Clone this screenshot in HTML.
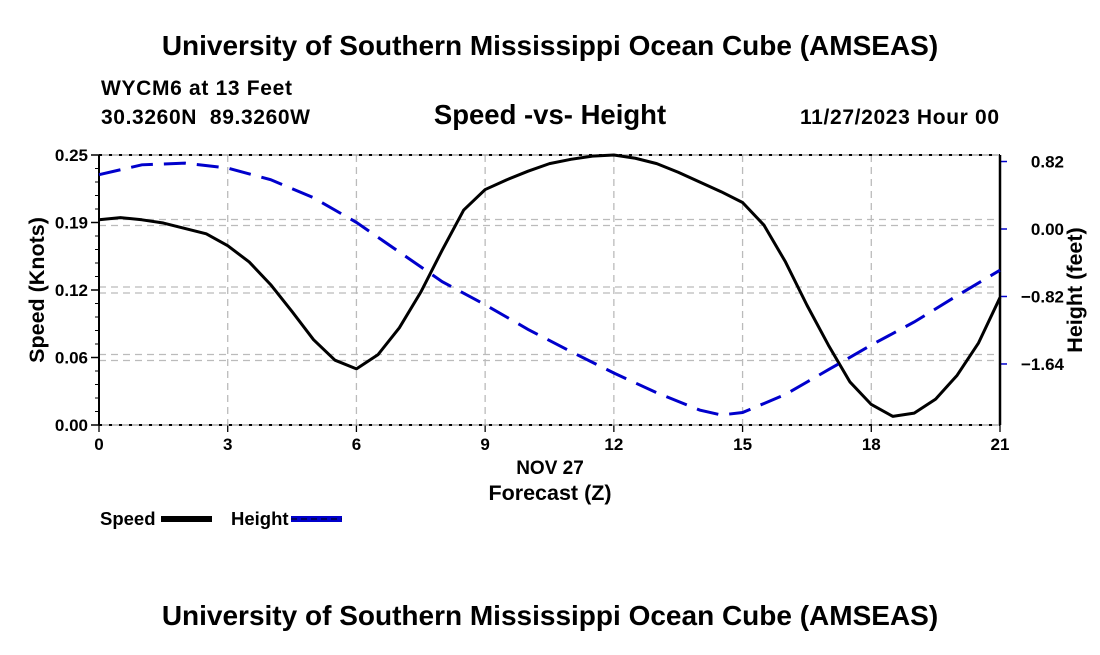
<!DOCTYPE html>
<html><head><meta charset="utf-8"><style>
body{margin:0;background:#fff;width:1100px;height:650px;overflow:hidden;font-family:"Liberation Sans",sans-serif}
svg text{font-family:"Liberation Sans",sans-serif;font-weight:bold}
</style></head><body>
<svg id="chart" width="1100" height="650">
<text x="550" y="55" text-anchor="middle" font-size="28">University of Southern Mississippi Ocean Cube (AMSEAS)</text>
<text x="101" y="95" font-size="21" textLength="191">WYCM6 at 13 Feet</text>
<text x="101" y="124" font-size="21" textLength="209" xml:space="preserve">30.3260N  89.3260W</text>
<text x="550" y="124" text-anchor="middle" font-size="27.5">Speed -vs- Height</text>
<text x="999" y="124" text-anchor="end" font-size="21" textLength="199">11/27/2023 Hour 00</text>
<g id="grid"></g>
<g id="axes"></g>
<g id="series"></g>
<text x="550" y="474" text-anchor="middle" font-size="19">NOV 27</text>
<text x="550" y="500" text-anchor="middle" font-size="21.5">Forecast (Z)</text>
<text transform="translate(44,290) rotate(-90)" text-anchor="middle" font-size="21.5">Speed (Knots)</text>
<text transform="translate(1082,290) rotate(-90)" text-anchor="middle" font-size="21.5">Height (feet)</text>
<g>
<text x="100" y="525" font-size="18.5">Speed</text>
<rect x="161" y="516" width="51" height="6" fill="#000"/>
</g>
<g>
<text x="231" y="525" font-size="18.5">Height</text>
<rect x="291" y="516" width="51" height="6" fill="#00c"/>
<line x1="291" y1="519" x2="342" y2="519" stroke="#000" stroke-width="1" stroke-dasharray="6,4"/>
</g>
<text x="550" y="625" text-anchor="middle" font-size="28">University of Southern Mississippi Ocean Cube (AMSEAS)</text>
</svg>
<script>
const hours = [0,0.5,1,1.5,2,2.5,3,3.5,4,4.5,5,5.5,6,6.5,7,7.5,8,8.5,9,9.5,10,10.5,11,11.5,12,12.5,13,13.5,14,14.5,15,15.5,16,16.5,17,17.5,18,18.5,19,19.5,20,20.5,21];
const speedValues = [0.190,0.192,0.190,0.187,0.182,0.177,0.166,0.151,0.130,0.105,0.079,0.060,0.052,0.065,0.090,0.123,0.162,0.199,0.218,0.227,0.235,0.242,0.246,0.249,0.250,0.247,0.242,0.234,0.225,0.216,0.206,0.185,0.151,0.111,0.074,0.040,0.019,0.008,0.011,0.024,0.046,0.076,0.118];
const heightHours = [0,1,2,3,4,5,6,7,8,9,10,11,12,13,14,14.5,15,16,17,18,19,20,21];
const heightValues = [0.66,0.78,0.80,0.74,0.60,0.38,0.08,-0.28,-0.64,-0.92,-1.22,-1.49,-1.75,-1.99,-2.20,-2.26,-2.23,-2.01,-1.71,-1.41,-1.13,-0.81,-0.50];
const xTicks = [0,3,6,9,12,15,18,21];
const speedTicks = [0,0.0625,0.125,0.1875,0.25];
const speedTickLabels = ["0.00","0.06","0.12","0.19","0.25"];
const heightTicks = [0.82,0,-0.82,-1.64];
const heightTickLabels = ["0.82","0.00","\u22120.82","\u22121.64"];

const L=99,R=1000,T=155,B=425;
const xs=h=>L+(R-L)*h/21;
const ys=v=>B-(B-T)*v/0.25;
const yh=v=>229-82.3*v;
const NS="http://www.w3.org/2000/svg";
function mk(tag,attrs,parent){const e=document.createElementNS(NS,tag);for(const k in attrs)e.setAttribute(k,attrs[k]);document.getElementById(parent).appendChild(e);return e;}

xTicks.forEach((t,i)=>{
  const x=xs(t);
  if(i>0&&i<xTicks.length-1){const g=mk('line',{x1:x,y1:T,x2:x,y2:B,stroke:'#bbb','stroke-width':1.3,'stroke-dasharray':'7,5'},'grid');
  
  }
  mk('line',{x1:x,y1:B,x2:x,y2:B+7,stroke:'#000','stroke-width':1.3},'axes');
  const tx=mk('text',{x:x,y:B+25,'text-anchor':'middle','font-size':17},'axes');tx.textContent=t;
  
  
});
speedTicks.forEach((v,i)=>{
  const y=ys(v);
  [y-3,y+3].forEach(yy=>{if(i>0&&i<speedTicks.length-1){const g=mk('line',{x1:L,y1:yy,x2:R,y2:yy,stroke:'#bbb','stroke-width':1.3,'stroke-dasharray':'7,5'},'grid');
  
  }});
  mk('line',{x1:L-8,y1:y,x2:L,y2:y,stroke:'#000','stroke-width':1.5},'axes');
  const tx=mk('text',{x:L-11,y:y+6,'text-anchor':'end','font-size':17},'axes');tx.textContent=speedTickLabels[i];
  
  
});
for(let k=1;k<20;k++){const y=B-(B-T)*k/20;mk('line',{x1:L-4,y1:y,x2:L,y2:y,stroke:'#000','stroke-width':1},'axes');}
heightTicks.forEach((v,i)=>{
  const y=yh(v);
  mk('line',{x1:R,y1:y,x2:R+7,y2:y,stroke:'#00c','stroke-width':1.5},'axes');
  const tx=mk('text',{x:1064,y:y+6,'text-anchor':'end','font-size':17},'axes');tx.textContent=heightTickLabels[i];
  
  
});
mk('line',{x1:L,y1:T,x2:L,y2:B,stroke:'#000','stroke-width':2},'axes');
mk('line',{x1:R,y1:T,x2:R,y2:B,stroke:'#000','stroke-width':2.5},'axes');
[T,B].forEach(y=>{mk('line',{x1:L,y1:y,x2:R,y2:y,stroke:'#999','stroke-width':1.3},'axes');
mk('line',{x1:L,y1:y,x2:R,y2:y,stroke:'#000','stroke-width':2,'stroke-dasharray':'3,7'},'axes');});

const sp=mk('polyline',{points:hours.map((h,i)=>xs(h)+','+ys(speedValues[i])).join(' '),fill:'none',stroke:'#000','stroke-width':3,'stroke-linejoin':'round'},'series');


const hp=mk('polyline',{points:heightHours.map((h,i)=>xs(h)+','+yh(heightValues[i])).join(' '),fill:'none',stroke:'#00c','stroke-width':3,'stroke-dasharray':'22,11'},'series');


</script>
</body></html>
